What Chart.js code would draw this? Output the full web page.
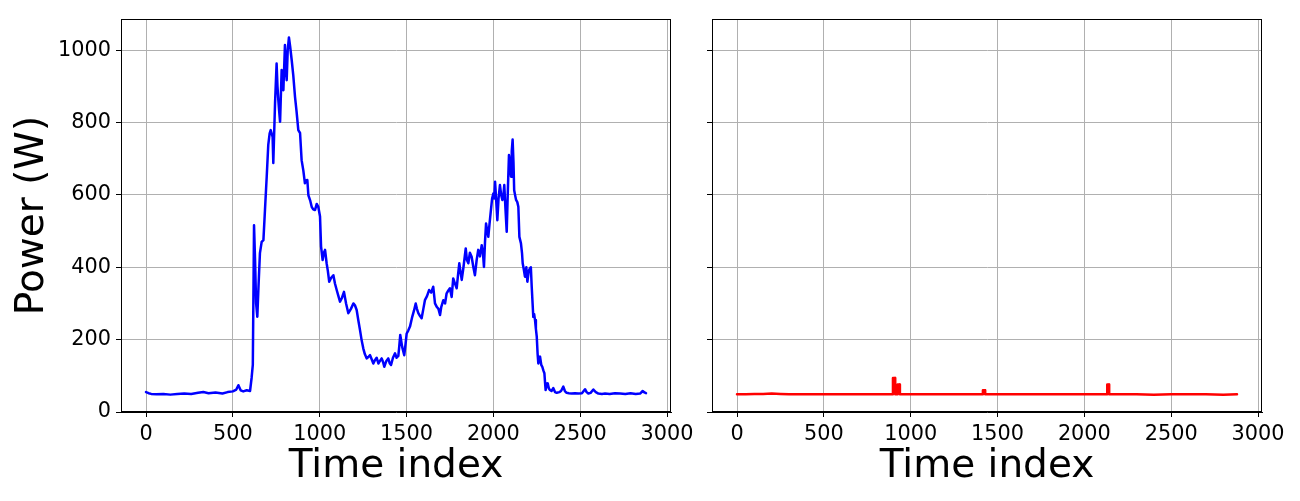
<!DOCTYPE html>
<html>
<head>
<meta charset="utf-8">
<script src="https://cdn.jsdelivr.net/npm/chart.js@4.4.1/dist/chart.umd.min.js"></script>
<style>
  html, body { margin: 0; padding: 0; background: #ffffff; }
  #wrap { position: relative; width: 1300px; height: 501px; overflow: hidden; }
  .pane { position: absolute; top: 0; height: 501px; }
</style>
</head>
<body>
<div id="wrap">
  <div class="pane" style="left:0px;width:700px"><canvas id="left" width="700" height="501"></canvas></div>
  <div class="pane" style="left:700px;width:600px"><canvas id="right" width="600" height="501"></canvas></div>
</div>
<script>
// ---- Data ----
const xTickValues = [0, 500, 1000, 1500, 2000, 2500, 3000];
const yTickValues = [0, 200, 400, 600, 800, 1000];

// Left panel (blue): time index and power (W)
const timeIdxA = [0,15,30,60,100,140,180,220,260,300,330,360,400,440,470,500,520,532,545,560,580,599,608,615,622,628,634,641,648,656,666,676,685,695,704,712,718,729,733,743,752,757,762,767,772,781,791,800,805,810,816,823,830,839,848,858,867,877,887,896,906,915,922,929,935,945,954,963,973,983,992,1002,1008,1017,1024,1031,1040,1047,1055,1065,1079,1088,1098,1108,1117,1128,1140,1152,1165,1180,1194,1203,1213,1222,1232,1241,1251,1260,1271,1280,1290,1300,1309,1319,1328,1338,1348,1357,1365,1372,1383,1395,1403,1411,1422,1434,1443,1453,1458,1464,1475,1487,1495,1501,1510,1520,1533,1543,1553,1560,1568,1578,1587,1597,1606,1618,1630,1642,1654,1664,1675,1684,1693,1700,1712,1722,1731,1740,1750,1760,1769,1779,1789,1797,1804,1810,1818,1828,1841,1848,1856,1865,1875,1885,1894,1904,1913,1923,1933,1940,1946,1952,1958,1965,1971,1978,1986,1993,2000,2005,2010,2017,2023,2030,2038,2045,2052,2058,2063,2070,2077,2084,2090,2096,2102,2106,2111,2116,2120,2125,2131,2138,2144,2150,2159,2165,2169,2175,2182,2190,2196,2204,2211,2216,2221,2230,2235,2240,2245,2250,2255,2259,2264,2269,2276,2282,2288,2294,2298,2301,2306,2313,2320,2326,2335,2345,2355,2365,2380,2390,2403,2412,2422,2435,2451,2470,2489,2510,2528,2537,2547,2560,2576,2590,2605,2625,2643,2670,2700,2730,2760,2790,2820,2845,2860,2870,2879];
const powerA = [55,52,50,49,50,48,50,51,50,53,55,52,54,51,55,57,62,74,60,57,60,58,94,130,516,420,300,263,350,439,470,475,558,650,738,770,779,760,688,853,963,900,862,830,802,945,889,1014,950,917,1000,1035,1010,972,930,871,830,779,771,696,667,632,640,641,599,585,567,560,558,575,567,540,457,420,440,448,411,390,360,370,378,355,337,320,305,315,332,300,273,285,300,295,282,255,227,200,176,160,148,152,157,145,134,144,150,134,142,148,138,125,140,148,135,130,150,162,150,155,180,213,180,157,190,217,225,236,263,280,300,285,273,265,259,285,309,320,337,330,346,300,290,285,268,290,309,300,328,335,342,318,369,355,342,380,411,390,365,400,452,420,411,440,429,400,378,420,448,430,461,440,401,470,521,500,484,520,558,590,604,590,636,580,530,590,627,600,586,600,627,560,498,620,710,690,650,720,753,690,613,600,586,580,567,484,466,440,411,395,374,400,360,390,397,400,346,263,270,254,230,208,160,134,145,153,130,125,115,107,80,61,72,79,65,61,58,66,55,53,55,58,70,58,53,52,51,52,51,52,63,55,51,53,62,55,51,50,51,50,52,51,50,52,50,51,58,54,52];

// Right panel (red): time index and power (W)
const timeIdxB = [0,50,100,150,200,250,300,400,500,600,700,800,897,898,910,911,924,925,937,938,1000,1100,1200,1300,1400,1415,1416,1428,1429,1500,1600,1700,1800,1900,2000,2100,2131,2132,2142,2143,2200,2300,2400,2500,2600,2700,2800,2879];
const powerB = [49,49,50,50,51,50,49,49,49,49,49,49,49,94,94,49,49,76,76,49,49,49,49,49,49,49,60,60,49,49,49,49,49,49,49,49,49,76,76,49,49,49,48,49,49,49,48,49];

const xMin = -144, xMax = 3023, yMin = 0, yMax = 1086;

Chart.defaults.font.family = "'DejaVu Sans', sans-serif";
Chart.defaults.color = '#000000';
Chart.defaults.animation = false;

const frame = {
  id: 'frame',
  afterDraw(chart) {
    const a = chart.chartArea, c = chart.ctx;
    c.save();
    c.strokeStyle = '#000';
    c.lineWidth = 1;
    c.strokeRect(Math.round(a.left) + 0.5, Math.round(a.top) + 0.5, Math.round(a.right - a.left) - 1, Math.round(a.bottom - a.top) - 1);
    c.restore();
  }
};

function pts(xs, ys) { return xs.map((x, i) => ({x: x, y: ys[i]})); }
const plain = v => String(v);

function makeChart(id, xs, ys, color, withYLabels, pad, yWidth) {
  return new Chart(document.getElementById(id), {
    type: 'line',
    data: { datasets: [{ data: pts(xs, ys), borderColor: color, borderWidth: 2.5, pointRadius: 0, tension: 0, fill: false, borderJoinStyle: 'round', borderCapStyle: 'round' }] },
    options: {
      responsive: false,
      devicePixelRatio: 1,
      layout: { padding: pad },
      plugins: { legend: { display: false }, tooltip: { enabled: false } },
      scales: {
        x: {
          type: 'linear', min: xMin, max: xMax,
          afterBuildTicks: s => { s.ticks = xTickValues.map(v => ({value: v})); },
          afterFit: s => { s.height = 89; s.paddingLeft = 0; s.paddingRight = 0; },
          grid: { color: '#b0b0b0', lineWidth: 1, tickColor: '#000', tickLength: 5, tickWidth: 1 },
          border: { color: '#000', width: 1 },
          ticks: { font: { size: 20.8 }, color: '#000', padding: 5, maxRotation: 0, autoSkip: false, callback: plain },
          title: { display: true, text: 'Time index', font: { size: 39 }, color: '#000', padding: { top: 0, bottom: 11 } }
        },
        y: {
          type: 'linear', min: yMin, max: yMax,
          afterBuildTicks: s => { s.ticks = yTickValues.map(v => ({value: v})); },
          afterFit: s => { s.width = yWidth; s.paddingTop = 0; s.paddingBottom = 0; },
          grid: { color: '#b0b0b0', lineWidth: 1, tickColor: '#000', tickLength: 5, tickWidth: 1 },
          border: { color: '#000', width: 1 },
          ticks: { display: withYLabels, font: { size: 20.8 }, color: '#000', padding: 5, autoSkip: false, callback: plain },
          title: { display: withYLabels, text: 'Power (W)', font: { size: 39 }, color: '#000', padding: { top: 9, bottom: 0 } }
        }
      }
    },
    plugins: [frame]
  });
}

makeChart('left', timeIdxA, powerA, '#0000ff', true, { left: 0, right: 29, top: 19, bottom: 0 }, 121);
makeChart('right', timeIdxB, powerB, '#ff0000', false, { left: 0, right: 38, top: 19, bottom: 0 }, 12);
</script>
</body>
</html>
